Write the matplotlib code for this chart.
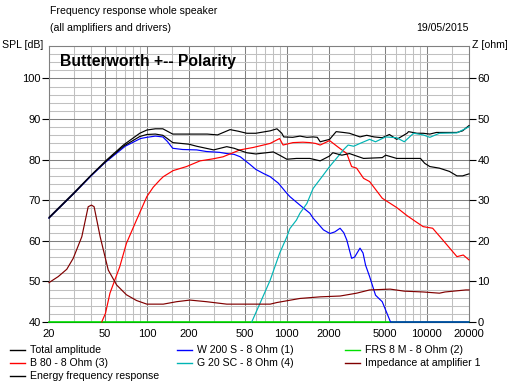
import numpy as np
import matplotlib
matplotlib.use("Agg")
import matplotlib.pyplot as plt
from matplotlib.lines import Line2D

plt.rcParams['font.family'] = ['Liberation Sans', 'DejaVu Sans']

# ---- data ----
total_f = [20, 30, 40, 51.5, 68, 89, 100, 115, 130, 153, 200, 270, 320, 393, 450, 517, 600, 760, 850, 920, 950,
           1100, 1240, 1390, 1540, 1650, 1730, 2020, 2250, 2530, 2800, 3330, 3720, 4200, 4800, 5400, 6090,
           7220, 7400, 8500, 9400, 10500, 11700, 14500, 16400, 18000, 20000]
total_db = [65.8, 71.8, 76.2, 79.9, 83.6, 86.5, 87.3, 87.6, 87.6, 86.3, 86.3, 86.3, 86.1, 87.4, 87.0, 86.5, 86.5,
            87.1, 87.6, 86.5, 85.6, 85.5, 85.8, 85.5, 85.6, 85.5, 84.4, 85.0, 86.9, 86.7, 86.5, 85.6, 86.0,
            85.6, 85.4, 86.2, 85.0, 86.5, 86.9, 86.5, 86.5, 86.3, 86.7, 86.7, 86.7, 87.1, 88.4]

w200_f = [20, 30, 40, 50, 70, 90, 100, 115, 130, 140, 153, 180, 227, 267, 330, 372, 420, 465, 546, 600, 680,
          760, 870, 1000, 1050, 1240, 1460, 1540, 1825, 2030, 2200, 2400, 2550, 2680, 2900, 3050, 3330, 3500,
          3650, 3900, 4300, 4800, 5500, 20000]
w200_db = [65.6, 71.6, 76.0, 79.2, 83.3, 85.2, 85.5, 85.8, 85.6, 84.5, 82.8, 82.5, 82.4, 82.0, 81.8, 81.5, 81.3,
           80.7, 78.8, 77.6, 76.6, 75.8, 74.2, 71.7, 70.9, 68.8, 66.8, 65.6, 62.7, 61.8, 62.2, 63.1, 62.0, 60.2,
           55.7, 56.0, 58.2, 57.0, 54.0, 51.2, 46.6, 45.0, 40.0, 40.0]

frs_f = [20, 20000]
frs_db = [40.0, 40.0]

b80_f = [47.6, 50.6, 54.5, 64, 71.5, 84.3, 100, 111, 124, 131, 154, 192, 240, 297, 350, 462, 575, 680, 760, 887,
         940, 1105, 1300, 1460, 1600, 1730, 2020, 2300, 2680, 2900, 3150, 3530, 3900, 4800, 5050, 6090, 7220,
         8030, 9400, 11000, 13000, 16400, 18200, 20000]
b80_db = [40.0, 42.1, 47.1, 53.6, 59.4, 65.1, 70.9, 73.2, 75.0, 75.8, 77.3, 78.3, 79.7, 80.2, 80.7, 82.4, 83.0,
          83.6, 84.0, 85.2, 83.6, 84.2, 84.3, 84.2, 84.0, 83.6, 84.7, 83.2, 81.5, 78.3, 77.9, 75.4, 74.6, 70.5,
          70.0, 68.2, 66.2, 65.1, 63.5, 63.1, 60.2, 56.1, 56.5, 55.3]

g20_f = [561, 643, 760, 887, 1000, 1050, 1170, 1240, 1390, 1540, 1820, 2020, 2310, 2530, 2740, 3000, 3330, 3900,
         4300, 5080, 6090, 6900, 8030, 9400, 10500, 12300, 16400, 19000, 20000]
g20_db = [40.0, 44.6, 50.3, 56.9, 61.0, 63.0, 65.1, 66.8, 69.2, 72.9, 76.2, 78.3, 80.7, 82.4, 83.6, 83.3, 84.0,
          85.0, 84.4, 85.6, 85.4, 84.4, 86.5, 86.1, 85.5, 86.5, 86.6, 87.7, 88.1]

imp_f = [20, 23.3, 26.8, 29.8, 34.3, 38.1, 40.2, 42, 46.4, 53, 60.9, 71.5, 84.3, 100, 131, 163, 203, 267, 372,
         760, 850, 1240, 1730, 2400, 3150, 3900, 5470, 6900, 9400, 12300, 13500, 19000, 20000]
imp_ohm = [9.7, 11.2, 13.0, 15.7, 21.0, 28.4, 28.8, 28.4, 21.0, 12.8, 9.1, 6.7, 5.3, 4.4, 4.4, 5.0, 5.4, 5.0, 4.4,
           4.4, 4.8, 5.8, 6.2, 6.4, 7.1, 7.9, 8.1, 7.6, 7.4, 7.1, 7.4, 7.9, 7.9]

energy_f = [20, 30, 40, 51.5, 68, 89, 100, 115, 130, 140, 153, 200, 227, 300, 372, 420, 517, 600, 800, 887, 1000,
            1170, 1460, 1730, 2020, 2130, 2470, 2800, 3530, 4800, 5080, 6090, 9000, 9650, 10500, 12300, 14500,
            16400, 18000, 20000]
energy_db = [65.6, 71.6, 76.1, 79.7, 83.3, 85.7, 86.2, 86.3, 86.0, 85.2, 84.2, 83.8, 83.3, 82.4, 83.2, 82.8, 81.7,
             81.4, 81.9, 81.1, 80.1, 80.3, 80.3, 79.7, 80.9, 81.7, 81.1, 81.5, 80.3, 80.5, 81.1, 80.3, 80.3, 79.1,
             78.3, 77.9, 77.1, 76.0, 76.0, 76.5]

freq_labels = [20, 50, 100, 200, 500, 1000, 2000, 5000, 10000, 20000]
freq_minor = [30, 40, 60, 70, 80, 90, 150, 300, 400, 600, 700, 800, 900, 1500, 3000, 4000,
              6000, 7000, 8000, 9000, 15000]
spl_ticks = [40, 50, 60, 70, 80, 90, 100]
z_ticks = [0, 10, 20, 30, 40, 50, 60]

legend_items = [("Total amplitude", "black"), ("W 200 S - 8 Ohm (1)", "#0000ff"), ("FRS 8 M - 8 Ohm (2)", "#00e000"),
                ("B 80 - 8 Ohm (3)", "#ff0000"), ("G 20 SC - 8 Ohm (4)", "#00b4b4"),
                ("Impedance at amplifier 1", "#800000"), ("Energy frequency response", "black")]

# ---- figure ----
W, H = 515, 383
fig = plt.figure(figsize=(W / 100, H / 100), dpi=100)
ax = fig.add_axes([49 / W, 1 - 322 / H, 420 / W, 276 / H])
ax.set_xscale('log')
ax.set_xlim(20, 20000)
ax.set_ylim(40, 108)

glw = 0.75
for f in freq_minor:
    ax.axvline(f, color='#c0c0c0', lw=glw, zorder=0)
for f in freq_labels[1:-1]:
    ax.axvline(f, color='#808080', lw=glw, zorder=0)
for v in range(42, 108, 2):
    ax.axhline(v, color='#808080' if v % 10 == 0 else '#c0c0c0', lw=glw, zorder=0)

lw = 0.85
ax.plot(total_f, total_db, color='black', lw=lw, clip_on=False, zorder=3)
ax.plot(frs_f, frs_db, color='#00e000', lw=1.2, clip_on=False, zorder=3)
ax.plot(w200_f, w200_db, color='#0000ff', lw=lw, clip_on=False, zorder=3)
ax.plot(b80_f, b80_db, color='#ff0000', lw=lw, clip_on=False, zorder=3)
ax.plot(g20_f, g20_db, color='#00b4b4', lw=lw, clip_on=False, zorder=3)
ax.plot(imp_f, np.array(imp_ohm) + 40, color='#800000', lw=lw, clip_on=False, zorder=3)
ax.plot(energy_f, energy_db, color='black', lw=lw, clip_on=False, zorder=3)

for s in ax.spines.values():
    s.set_color('#808080')
    s.set_linewidth(0.8)
ax.spines['bottom'].set_color('black')

ax.xaxis.set_major_locator(matplotlib.ticker.FixedLocator(freq_labels))
ax.xaxis.set_minor_locator(matplotlib.ticker.NullLocator())
ax.set_xticklabels([str(f) for f in freq_labels])
ax.tick_params(axis='x', length=0, pad=5, labelsize=8)
ax.set_yticks(spl_ticks)
ax.tick_params(axis='y', length=5, width=0.8, pad=1, labelsize=8, direction='out')

ax2 = ax.twinx()
ax2.set_ylim(0, 68)
ax2.set_yticks(z_ticks)
ax2.tick_params(axis='y', length=5, width=0.8, pad=1, labelsize=8, direction='out')
for s in ax2.spines.values():
    s.set_visible(False)

fig.text(50 / W, 1 - 11 / H, "Frequency response whole speaker", fontsize=7.6, va='center')
fig.text(50 / W, 1 - 28 / H, "(all amplifiers and drivers)", fontsize=7.6, va='center')
fig.text(469 / W, 1 - 28 / H, "19/05/2015", fontsize=7.6, va='center', ha='right')
fig.text(2 / W, 1 - 45.5 / H, "SPL [dB]", fontsize=7.6, va='center')
fig.text(472 / W, 1 - 45.5 / H, "Z [ohm]", fontsize=7.6, va='center')
ax.text(60 / W, 1 - 61.5 / H, "Butterworth +-- Polarity", fontsize=11.3, fontweight='bold',
        va='center', transform=fig.transFigure)

col_x = [10, 177, 345]
row_y = [350, 363.3, 376]
for i, (label, color) in enumerate(legend_items):
    cx = col_x[i % 3]
    ry = row_y[i // 3]
    fig.add_artist(Line2D([cx / W, (cx + 15) / W], [1 - ry / H, 1 - ry / H], color=color, lw=1))
    fig.text((cx + 20) / W, 1 - ry / H, label, fontsize=7.6, va='center')

fig.savefig("out.png", dpi=100)
